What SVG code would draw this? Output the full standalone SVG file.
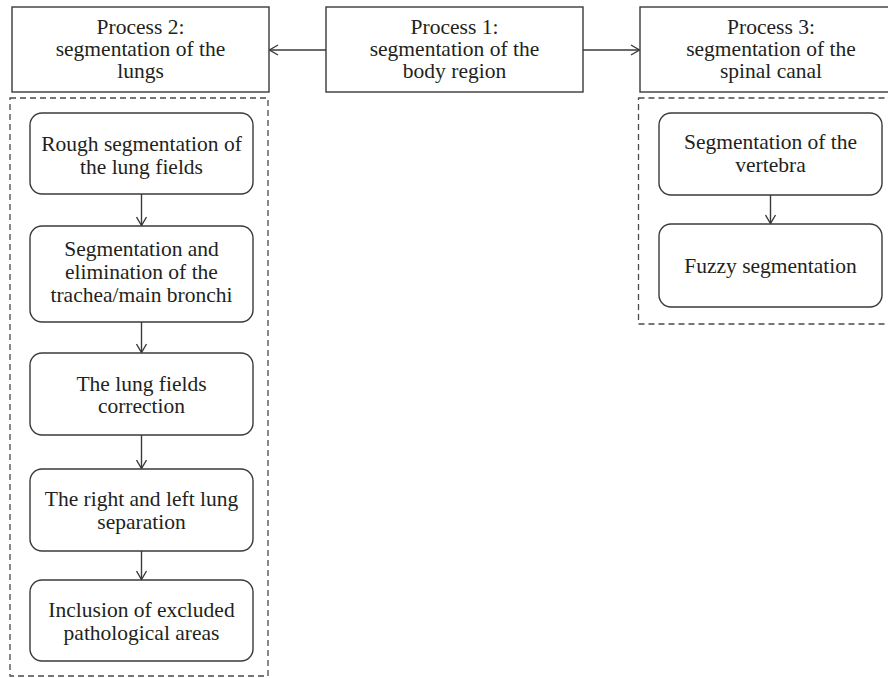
<svg xmlns="http://www.w3.org/2000/svg" width="888" height="678" viewBox="0 0 888 678">
<style>
.box{fill:#fff;stroke:#3a3a3a;stroke-width:1.4}
.rbox{fill:#fff;stroke:#3a3a3a;stroke-width:1.4}
.dash{fill:none;stroke:#4a4a4a;stroke-width:1.3;stroke-dasharray:6 4}
.lbl{font-family:"Liberation Serif","Times New Roman",serif;font-size:21.5px;fill:#231f20;text-anchor:middle}
.conn{stroke:#3a3a3a;stroke-width:1.4;fill:none}
</style>
<defs>
<marker id="arr" viewBox="0 0 10 12" refX="9.5" refY="6" markerWidth="10" markerHeight="12" markerUnits="userSpaceOnUse" orient="auto">
<path d="M1,1 L9.5,6 L1,11" fill="none" stroke="#3a3a3a" stroke-width="1.4"/>
</marker>
</defs>
<rect width="888" height="678" fill="#fff"/>

<g id="group-lungs"><rect class="dash" x="10" y="98" width="258" height="578"/></g>
<g id="group-spinal"><rect class="dash" x="638.5" y="98" width="270" height="226"/></g>

<g id="p2"><rect class="box" x="12" y="7" width="257" height="85"/>
<text class="lbl" x="140.5" y="34">Process 2:</text>
<text class="lbl" x="140.5" y="56">segmentation of the</text>
<text class="lbl" x="140.5" y="78">lungs</text></g>

<g id="p1"><rect class="box" x="326" y="7" width="257" height="85"/>
<text class="lbl" x="454.5" y="34">Process 1:</text>
<text class="lbl" x="454.5" y="56">segmentation of the</text>
<text class="lbl" x="454.5" y="78">body region</text></g>

<g id="p3"><rect class="box" x="640" y="7" width="262" height="85"/>
<text class="lbl" x="771" y="34">Process 3:</text>
<text class="lbl" x="771" y="56">segmentation of the</text>
<text class="lbl" x="771" y="78">spinal canal</text></g>

<g id="l1"><rect class="rbox" x="30" y="113" width="223" height="81" rx="12"/>
<text class="lbl" x="141.5" y="151">Rough segmentation of</text>
<text class="lbl" x="141.5" y="174">the lung fields</text></g>

<g id="l2"><rect class="rbox" x="30" y="226" width="223" height="96" rx="12"/>
<text class="lbl" x="141.5" y="256">Segmentation and</text>
<text class="lbl" x="141.5" y="279">elimination of the</text>
<text class="lbl" x="141.5" y="302">trachea/main bronchi</text></g>

<g id="l3"><rect class="rbox" x="30" y="353" width="223" height="82" rx="12"/>
<text class="lbl" x="141.5" y="390.5">The lung fields</text>
<text class="lbl" x="141.5" y="413">correction</text></g>

<g id="l4"><rect class="rbox" x="30" y="469" width="223" height="82" rx="12"/>
<text class="lbl" x="141.5" y="506">The right and left lung</text>
<text class="lbl" x="141.5" y="528.5">separation</text></g>

<g id="l5"><rect class="rbox" x="30" y="580" width="223" height="81" rx="12"/>
<text class="lbl" x="141.5" y="617">Inclusion of excluded</text>
<text class="lbl" x="141.5" y="639.5">pathological areas</text></g>

<g id="s1"><rect class="rbox" x="659" y="113" width="223" height="82" rx="12"/>
<text class="lbl" x="770.5" y="149">Segmentation of the</text>
<text class="lbl" x="770.5" y="172">vertebra</text></g>

<g id="s2"><rect class="rbox" x="659" y="224" width="223" height="83" rx="12"/>
<text class="lbl" x="770.5" y="273">Fuzzy segmentation</text></g>

<g id="connectors">
<line class="conn" x1="326" y1="50" x2="269.5" y2="50" marker-end="url(#arr)"/>
<line class="conn" x1="583" y1="50" x2="639.5" y2="50" marker-end="url(#arr)"/>
<line class="conn" x1="141.5" y1="194" x2="141.5" y2="225.5" marker-end="url(#arr)"/>
<line class="conn" x1="141.5" y1="322" x2="141.5" y2="352.5" marker-end="url(#arr)"/>
<line class="conn" x1="141.5" y1="435" x2="141.5" y2="468.5" marker-end="url(#arr)"/>
<line class="conn" x1="141.5" y1="551" x2="141.5" y2="579.5" marker-end="url(#arr)"/>
<line class="conn" x1="770.5" y1="195" x2="770.5" y2="223.5" marker-end="url(#arr)"/>
</g>
</svg>
